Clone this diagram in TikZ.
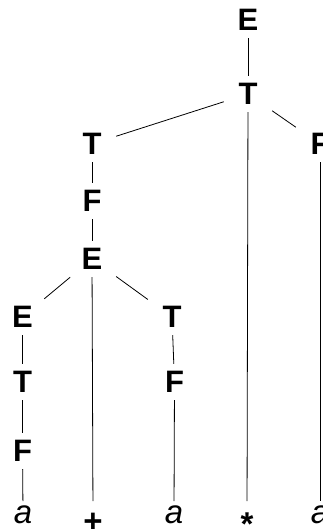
\documentclass[tikz,border=0pt]{standalone}
\usepackage{fontspec}
\setmainfont{Liberation Sans}
\begin{document}
\begin{tikzpicture}[x=1pt,y=-1pt,
  nt/.style={font=\fontsize{31}{31}\selectfont\bfseries, inner sep=0pt,
             minimum width=48pt, minimum height=36pt, rectangle},
  leaf/.style={font=\fontsize{33}{33}\selectfont, inner sep=0pt, anchor=north, text depth=0pt},
  edge/.style={draw=black, line width=0.8pt}]
\useasboundingbox (0,0) rectangle (323,529);
% nonterminals
\node[nt] (E0) at (248,20) {E};
\node[nt] (T0) at (248,94) {T};
\node[nt] (T1) at (92,144) {T};
\node[nt] (F0) at (320,144) {F};
\node[nt] (F1) at (92,201) {F};
\node[nt] (E1) at (92,259) {E};
\node[nt] (E2) at (22.5,317) {E};
\node[nt] (T2) at (172,317) {T};
\node[nt] (T3) at (22.5,382) {T};
\node[nt] (F2) at (174.5,382) {F};
\node[nt] (F3) at (22.5,451) {F};
% leaves
\node[leaf, text height=22pt] (a1) at (23,501) {\itshape a};
\node[leaf, text height=31pt] (p1) at (93,501) {\bfseries +};
\node[leaf, text height=22pt] (a2) at (174,501) {\itshape a};
\node[leaf, text height=34.5pt] (s1) at (247,501) {\bfseries *};
\node[leaf, text height=22pt] (a3) at (320,501) {\itshape a};
% edges
\draw[edge] (E0) -- (T0);
\draw[edge] (T0) -- (T1);
\draw[edge] (T0) -- (s1);
\draw[edge] (T0) -- (F0);
\draw[edge] (F0) -- (a3);
\draw[edge] (T1) -- (F1);
\draw[edge] (F1) -- (E1);
\draw[edge] (E1) -- (E2);
\draw[edge] (E1) -- (p1);
\draw[edge] (E1) -- (T2);
\draw[edge] (E2) -- (T3);
\draw[edge] (T3) -- (F3);
\draw[edge] (F3) -- (a1);
\draw[edge] (T2) -- (F2);
\draw[edge] (F2) -- (a2);
\end{tikzpicture}
\end{document}
